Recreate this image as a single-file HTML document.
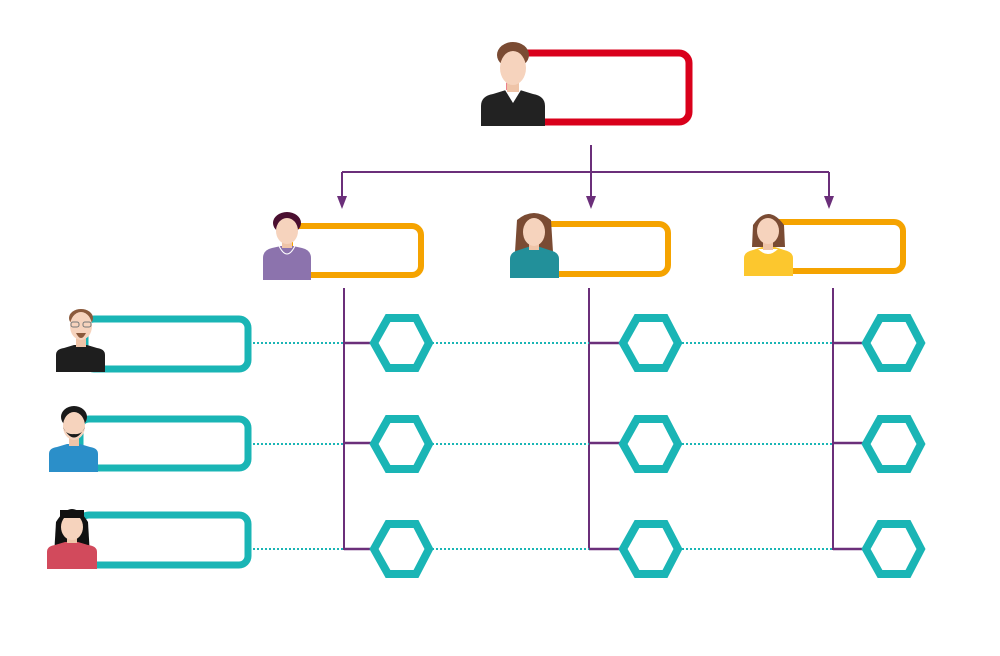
<!DOCTYPE html>
<html><head><meta charset="utf-8"><style>html,body{margin:0;padding:0;background:#fff}svg{display:block}</style></head>
<body>
<svg width="1000" height="656" viewBox="0 0 1000 656" xmlns="http://www.w3.org/2000/svg">
<!-- top connectors -->
<g stroke="#6b2f7a" stroke-width="2" fill="none">
<line x1="591" y1="145" x2="591" y2="172"/>
<line x1="342" y1="172" x2="829" y2="172"/>
<line x1="342" y1="172" x2="342" y2="200"/>
<line x1="591" y1="172" x2="591" y2="200"/>
<line x1="829" y1="172" x2="829" y2="200"/>
<line x1="344" y1="288" x2="344" y2="550"/>
<line x1="589" y1="288" x2="589" y2="550"/>
<line x1="833" y1="288" x2="833" y2="550"/>
<g stroke-width="2.5">
<line x1="344" y1="343" x2="372" y2="343"/><line x1="344" y1="443" x2="372" y2="443"/><line x1="344" y1="549" x2="372" y2="549"/>
<line x1="589" y1="343" x2="621" y2="343"/><line x1="589" y1="443" x2="621" y2="443"/><line x1="589" y1="549" x2="621" y2="549"/>
<line x1="833" y1="343" x2="864" y2="343"/><line x1="833" y1="443" x2="864" y2="443"/><line x1="833" y1="549" x2="864" y2="549"/>
</g>
</g>
<g fill="#6b2f7a">
<polygon points="337,196 347,196 342,209"/>
<polygon points="586,196 596,196 591,209"/>
<polygon points="824,196 834,196 829,209"/>
</g>
<!-- dotted lines -->
<g stroke="#1ab5b5" stroke-width="2" stroke-dasharray="2,2">
<line x1="253" y1="343" x2="344" y2="343"/><line x1="253" y1="444" x2="344" y2="444"/><line x1="253" y1="549" x2="344" y2="549"/>
<line x1="432" y1="343" x2="589" y2="343"/><line x1="432" y1="444" x2="589" y2="444"/><line x1="432" y1="549" x2="589" y2="549"/>
<line x1="682" y1="343" x2="833" y2="343"/><line x1="682" y1="444" x2="833" y2="444"/><line x1="682" y1="549" x2="833" y2="549"/>
</g>
<!-- hexagons -->
<g fill="#fff" stroke="#1ab5b5" stroke-width="8" stroke-linejoin="miter">
<polygon points="374,343 388,318 416,318 429,343 416,368 388,368"/>
<polygon points="374,444 388,419 416,419 429,444 416,469 388,469"/>
<polygon points="374,549 388,524 416,524 429,549 416,574 388,574"/>
<polygon points="623,343 637,318 665,318 678,343 665,368 637,368"/>
<polygon points="623,444 637,419 665,419 678,444 665,469 637,469"/>
<polygon points="623,549 637,524 665,524 678,549 665,574 637,574"/>
<polygon points="866,343 880,318 908,318 921,343 908,368 880,368"/>
<polygon points="866,444 880,419 908,419 921,444 908,469 880,469"/>
<polygon points="866,549 880,524 908,524 921,549 908,574 880,574"/>
</g>
<!-- boxes -->
<g fill="#fff">
<rect x="510" y="53" width="179" height="69" rx="10" stroke="#d9001b" stroke-width="7"/>
<rect x="290" y="226" width="131" height="49" rx="9" stroke="#f5a300" stroke-width="6"/>
<rect x="535" y="224" width="133" height="50" rx="9" stroke="#f5a300" stroke-width="6"/>
<rect x="770" y="222" width="133" height="49" rx="9" stroke="#f5a300" stroke-width="6"/>
<rect x="85" y="319" width="163" height="50" rx="9" stroke="#1ab5b5" stroke-width="7"/>
<rect x="80" y="419" width="168" height="49" rx="9" stroke="#1ab5b5" stroke-width="7"/>
<rect x="80" y="515" width="168" height="50" rx="9" stroke="#1ab5b5" stroke-width="7"/>
</g>
<!-- top man -->
<g>
<path d="M481,126 V106 Q481,96 493,94 L506,90 H520 L533,94 Q545,96 545,106 V126 Z" fill="#222"/>
<path d="M505,90 L513,103 L521,90 Z" fill="#fff"/>
<rect x="507" y="80" width="12" height="12" fill="#efc4a8"/>
<ellipse cx="513" cy="55" rx="16" ry="13" fill="#7a4b33"/>
<ellipse cx="513" cy="68" rx="13" ry="17" fill="#f6d3bd"/>
</g>
<!-- purple woman -->
<g>
<path d="M263,280 V258 Q263,250 272,248 L281,246 H293 L302,248 Q311,250 311,258 V280 Z" fill="#8c73ad"/>
<path d="M279,246 Q287,262 295,246" fill="none" stroke="#fff" stroke-width="1"/>
<rect x="282" y="238" width="10" height="10" fill="#efc4a8"/>
<ellipse cx="287" cy="223" rx="14" ry="11" fill="#4a0f30"/>
<ellipse cx="287" cy="231" rx="11" ry="13" fill="#f6d3bd"/>
</g>
<!-- teal woman -->
<g>
<path d="M517,220 Q534,206 551,220 L553,252 H515 Z" fill="#7a4b33"/>
<path d="M510,278 V259 Q510,252 519,250 L528,247 H540 L549,250 Q559,252 559,259 V278 Z" fill="#22909a"/>
<rect x="529" y="238" width="10" height="12" fill="#efc4a8"/>
<ellipse cx="534" cy="232" rx="11" ry="14" fill="#f6d3bd"/>
</g>
<!-- yellow woman -->
<g>
<path d="M753,225 Q768,203 784,225 L785,247 H752 Z" fill="#7a4b33"/>
<path d="M744,276 V258 Q744,252 753,250 L762,247 H775 L784,250 Q793,252 793,258 V276 Z" fill="#fcc72e"/>
<path d="M758,249 Q768,259 778,249 Z" fill="#fff"/>
<rect x="763" y="238" width="10" height="12" fill="#efc4a8"/>
<ellipse cx="768" cy="231" rx="11" ry="13" fill="#f6d3bd"/>
</g>
<!-- glasses man -->
<g>
<path d="M56,372 V355 Q56,349 64,348 L74,345 H87 L97,348 Q105,349 105,355 V372 Z" fill="#1e1e1e"/>
<rect x="76" y="337" width="10" height="10" fill="#efc4a8"/>
<ellipse cx="81" cy="318" rx="12" ry="9" fill="#8b5a3c"/>
<ellipse cx="81" cy="326" rx="11" ry="14" fill="#f6d3bd"/>
<path d="M76,333 Q81,343 86,333 Z" fill="#8b5a3c"/>
<g fill="none" stroke="#777" stroke-width="1"><rect x="71" y="322" width="8" height="5" rx="2"/><rect x="83" y="322" width="8" height="5" rx="2"/></g>
</g>
<!-- beard man -->
<g>
<path d="M49,472 V454 Q49,448 57,447 L67,444 H80 L90,447 Q98,448 98,454 V472 Z" fill="#2b8fc9"/>
<rect x="69" y="436" width="10" height="10" fill="#efc4a8"/>
<ellipse cx="74" cy="417" rx="13" ry="11" fill="#1a1a1a"/>
<ellipse cx="74" cy="426" rx="11" ry="14" fill="#f6d3bd"/>
<path d="M63,427 Q74,448 85,427 Q82,435 74,434 Q66,435 63,427 Z" fill="#1a1a1a"/>
</g>
<!-- red woman -->
<g>
<path d="M56,522 Q72,496 88,522 L90,556 H54 Z" fill="#111"/>
<path d="M47,569 V552 Q47,546 55,545 L65,542 H78 L88,545 Q97,546 97,552 V569 Z" fill="#d24a5c"/>
<rect x="67" y="533" width="10" height="10" fill="#efc4a8"/>
<ellipse cx="72" cy="527" rx="11" ry="13" fill="#f6d3bd"/>
<rect x="60" y="510" width="24" height="8" fill="#111"/>
</g>
</svg>
</body></html>
